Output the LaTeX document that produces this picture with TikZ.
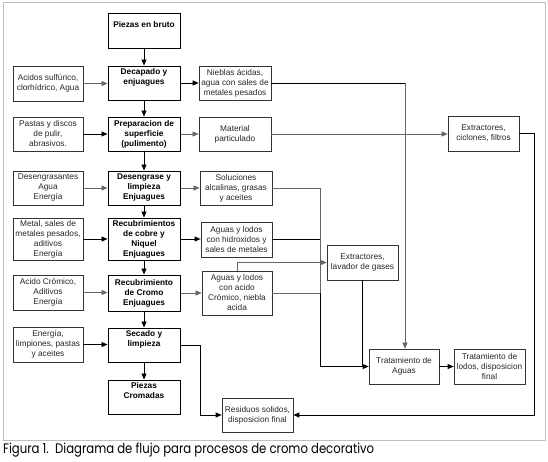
\documentclass[tikz,border=0pt]{standalone}
\usepackage{fontspec}
\setmainfont{Liberation Sans}
\newfontfamily\capfont{Poppins}
\usetikzlibrary{arrows.meta}
\begin{document}
\begin{tikzpicture}[x=1pt,y=-1pt,
  base/.style={align=center, inner sep=1pt, font=\fontsize{8.3}{10}\selectfont, text=black!85},
  side/.style={base, draw=black!80, line width=0.7pt},
  proc/.style={base, draw=black, line width=1pt, font=\fontsize{8.3}{10}\selectfont\bfseries, text=black},
  bk/.style={draw=black, line width=0.9pt},
  gy/.style={draw=black!60, line width=0.6pt},
  tip/.style={-{Triangle[length=6pt,width=5pt]}},
]
\useasboundingbox (0,0) rectangle (548,461);
\draw[black!25, line width=0.8pt] (3,2.5) rectangle (545,440);

% process column
\node[proc, minimum width=72pt, minimum height=35pt] (bruto) at (144,30.5) {Piezas en bruto\\\strut};
\node[proc, minimum width=72pt, minimum height=34pt] (dec) at (144,83) {Decapado y\\enjuagues\\\strut};
\node[proc, minimum width=72pt, minimum height=34pt] (prep) at (144,134) {Preparacion de\\superficie\\(pulimento)};
\node[proc, minimum width=72pt, minimum height=34pt] (desg) at (144,188) {Desengrase y\\limpieza\\Enjuagues};
\node[proc, minimum width=72pt, minimum height=42pt] (cobre) at (144,239) {Recubrimientos\\de cobre y\\Niquel\\Enjuagues};
\node[proc, minimum width=72pt, minimum height=36pt] (cromo) at (144,293) {Recubrimiento\\de Cromo\\Enjuagues};
\node[proc, minimum width=72pt, minimum height=34pt] (sec) at (144,345) {Secado y\\limpieza\\\strut};
\node[proc, minimum width=72pt, minimum height=34pt] (pcrom) at (144,397) {Piezas\\Cromadas\\\strut};

% left inputs
\node[side, minimum width=70pt, minimum height=35pt] (acid) at (48,83.5) {Acidos sulfúrico,\\clorhídrico, Agua};
\node[side, minimum width=70pt, minimum height=34pt] (past) at (48,134) {Pastas y discos\\de pulir,\\abrasivos.};
\node[side, minimum width=70pt, minimum height=34pt] (dgr) at (48,188) {Desengrasantes\\Agua\\Energía};
\node[side, minimum width=70pt, minimum height=42pt] (metal) at (48,239) {Metal, sales de\\metales pesados,\\aditivos\\Energía};
\node[side, minimum width=70pt, minimum height=35pt] (acr) at (48,292.5) {Acido Crómico,\\Aditivos\\Energía};
\node[side, minimum width=70pt, minimum height=35pt] (ener) at (48,344.5) {Energía,\\limpiones, pastas\\y aceites};

% right outputs
\node[side, minimum width=72pt, minimum height=34pt] (nieb) at (235,83) {Nieblas ácidas,\\agua con sales de\\metales pesados};
\node[side, minimum width=72pt, minimum height=34pt] (mat) at (235,134) {Material\\particulado};
\node[side, minimum width=72pt, minimum height=34pt] (sol) at (236,188) {Soluciones\\alcalinas, grasas\\y aceites};
\node[side, minimum width=71pt, minimum height=35pt] (hidr) at (236.5,239.5) {Aguas y lodos\\con hidroxidos y\\sales de metales};
\node[side, minimum width=70pt, minimum height=44pt] (acw) at (237,293) {Aguas y lodos\\con acido\\Crómico, niebla\\acida};

\node[side, minimum width=71pt, minimum height=35pt] (extl) at (362.5,262.5) {Extractores,\\lavador de gases};
\node[side, minimum width=71pt, minimum height=35pt] (extc) at (483.5,133.5) {Extractores,\\ciclones, filtros};
\node[side, minimum width=70pt, minimum height=35pt] (trat) at (404,366.5) {Tratamiento de\\Aguas};
\node[side, minimum width=71pt, minimum height=35pt] (lodos) at (489.5,366.5) {Tratamiento de\\lodos, disposicion\\final};
\node[side, minimum width=71pt, minimum height=34pt] (resid) at (257.5,415) {Residuos solidos,\\disposicion final};

% caption
\node[anchor=base west, inner sep=0pt] (cap) at (3,453) {\resizebox{371pt}{10.5pt}{\capfont Figura 1.\ \ Diagrama de flujo para procesos de cromo decorativo}};

% junction coordinates
\coordinate (nj) at (405,83);
\coordinate (jx) at (320,293);
\coordinate (ej) at (534,415);
\coordinate (sj) at (200,415);

% main column arrows
\draw[bk,tip] (bruto) -- (dec);
\draw[bk,tip] (dec) -- (prep);
\draw[bk,tip] (prep) -- (desg);
\draw[bk,tip] (desg) -- (cobre);
\draw[bk,tip] (cobre) -- (cromo);
\draw[bk,tip] (cromo) -- (sec);
\draw[bk,tip] (sec) -- (pcrom);

% inputs
\draw[gy,tip] (acid.east) -- (acid.east -| dec.west);
\draw[bk,tip] (past.east) -- (past.east -| prep.west);
\draw[gy,tip] (dgr.east) -- (dgr.east -| desg.west);
\draw[bk,tip] (metal.east) -- (metal.east -| cobre.west);
\draw[gy,tip] (acr.east) -- (acr.east -| cromo.west);
\draw[bk,tip] (ener.east) -- (ener.east -| sec.west);

% outputs
\draw[bk,tip] (dec.east) -- (dec.east -| nieb.west);
\draw[gy,tip] (prep.east) -- (prep.east -| mat.west);
\draw[gy,tip] (desg.east) -- (desg.east -| sol.west);
\draw[bk,tip] (cobre.east) -- (cobre.east -| hidr.west);
\draw[gy,tip] (cromo.east) -- (cromo.east -| acw.west);

% right network
\draw[bk] (nieb.east) -- (nj);
\draw[gy,tip] (nj) -- (nj |- trat.north);
\draw[gy,tip] (mat.east) -- (mat.east -| extc.west);
\draw[bk,tip] (extc.east) -| (ej) -- (resid.east);
\draw[gy] (sol.east) -| (jx);
\draw[bk] (hidr.east) -- (hidr.east -| jx);
\draw[gy,tip] (acw.north) |- (extl.west);
\draw[gy] (acw.east) -- (jx);
\draw[bk,tip] (jx) |- (trat.west);
\draw[bk] (extl.south) -- (extl.south |- trat.west);
\draw[bk,tip] (sec.east) -| (sj) -- (resid.west);
\draw[bk,tip] (trat.east) -- (lodos.west);
\end{tikzpicture}
\end{document}
